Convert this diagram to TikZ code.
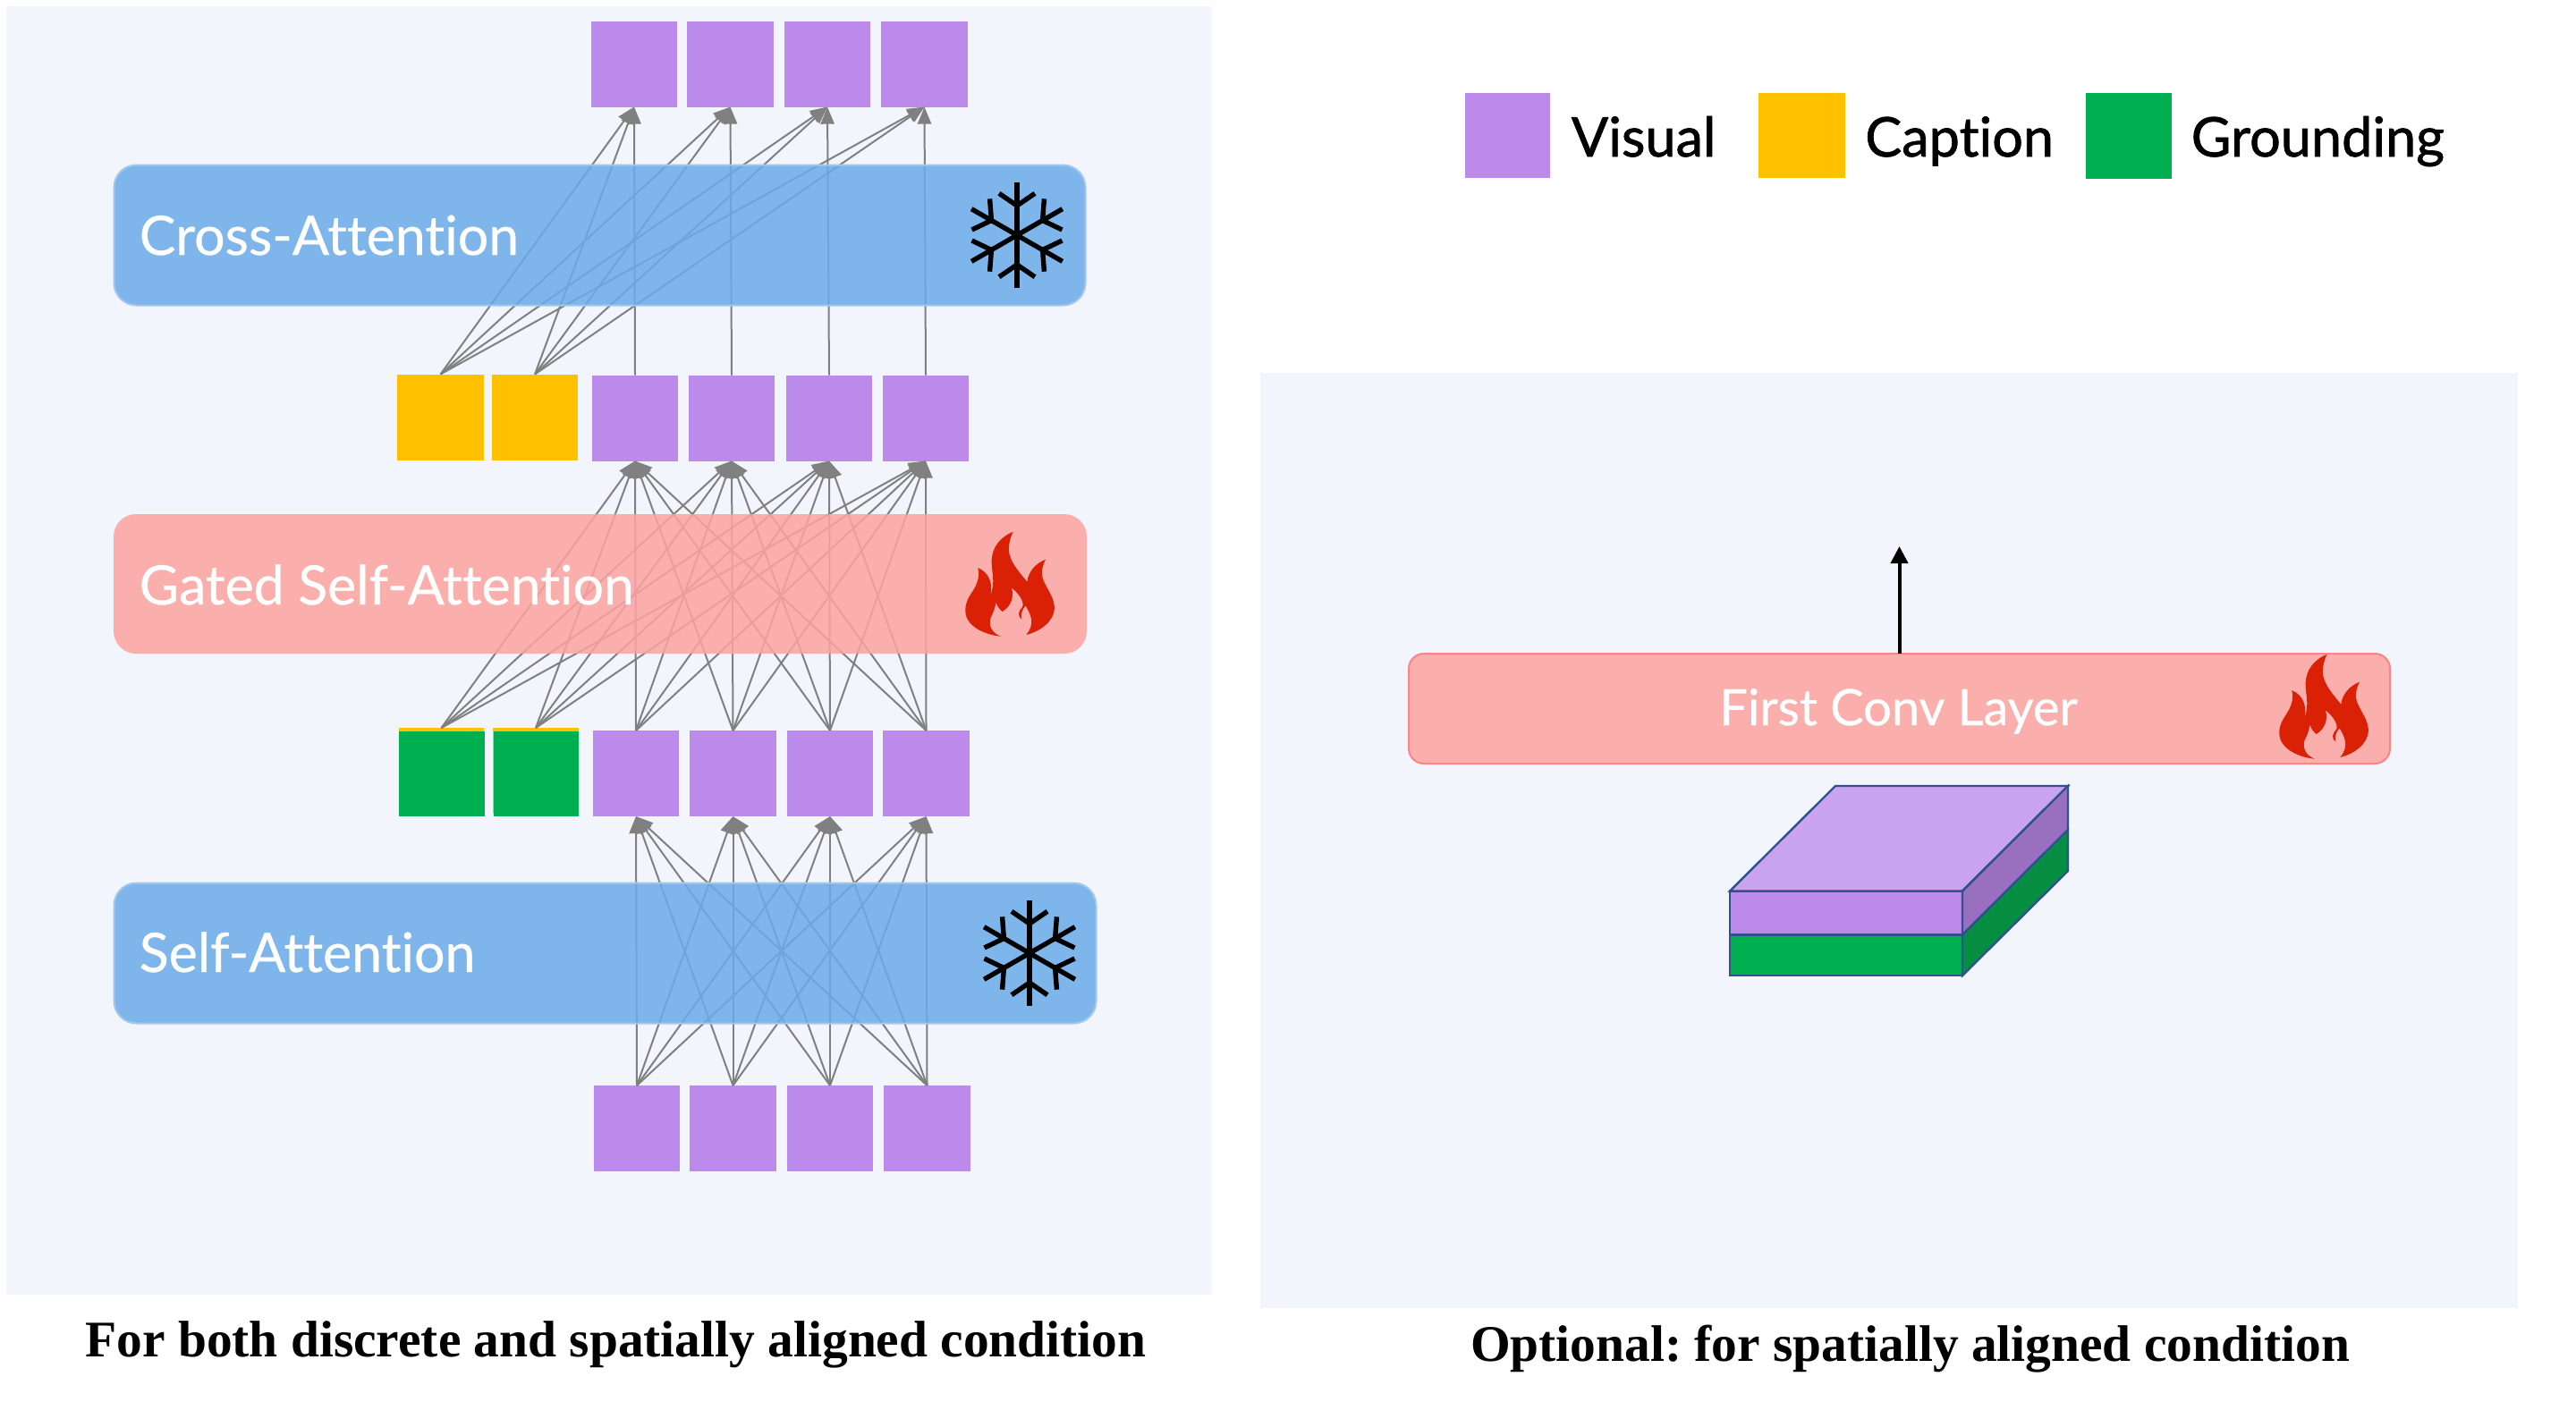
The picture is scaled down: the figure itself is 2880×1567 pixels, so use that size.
\documentclass[tikz,border=0pt]{standalone}
\usepackage{fontspec}
\setmainfont{Lato}[Ligatures=CommonOff]
\newfontfamily\capfont{Liberation Serif}
\newfontfamily\labfont{Lato}[Ligatures=CommonOff,FakeBold=0.5]
\newfontfamily\legfont{Lato}[Ligatures=CommonOff,FakeBold=1.2]
\usetikzlibrary{arrows.meta}
\definecolor{panelbg}{HTML}{F2F5FC}
\definecolor{visualc}{HTML}{BC8AEA}
\definecolor{captionc}{HTML}{FFC000}
\definecolor{groundc}{HTML}{00B050}
\definecolor{blueb}{RGB}{106,171,233}
\definecolor{bluebd}{HTML}{A4C8EC}
\definecolor{pinkb}{RGB}{253,163,159}
\definecolor{pinkf}{HTML}{FBAFAD}
\definecolor{pinkbd}{HTML}{F98585}
\definecolor{flamec}{HTML}{DA2106}
\definecolor{linkc}{HTML}{808080}
\definecolor{cubeline}{HTML}{2F528F}
\definecolor{cubetop}{HTML}{C9A4EE}
\definecolor{cubeside}{HTML}{9970BF}
\definecolor{cubeground}{HTML}{068E42}
\tikzset{
  cell/.style={rectangle,inner sep=0pt,outer sep=0pt,minimum width=24.2pt,minimum height=24pt,fill=#1},
  link/.style={draw=linkc,line width=0.5pt,-{Triangle[length=4.8pt,width=3.8pt]}},
  barnode/.style={rectangle,rounded corners=6.25pt,inner sep=0pt,outer sep=0pt},
  bartext/.style={text=white,font=\labfont\fontsize{15.2}{20}\selectfont,anchor=base west,inner sep=0pt},
  legendtext/.style={text=black,font=\legfont\fontsize{15.3}{20}\selectfont,anchor=base west,inner sep=0pt},
  captext/.style={text=black,font=\capfont\bfseries\frenchspacing\fontsize{14.36}{17}\selectfont,inner sep=0pt},
  cubeedge/.style={draw=cubeline,line width=0.6pt,line join=miter},
  snowflake/.pic={
    \foreach \a in {0,60,...,300}{
      \draw[black,line width=1.35pt,rotate=\a] (0,0) -- (0,58.7);
      \draw[black,line width=1.35pt,rotate=\a] (-20,46.7) -- (0,33) -- (20,46.7);
    }
  },
  flame/.pic={
    \fill[flamec,x=0.08333pt,y=-0.08333pt]
      (248,44) .. controls (205,62) and (178,95) .. (176,140)
      .. controls (175,180) and (190,210) .. (172,258)
      .. controls (182,215) and (165,180) .. (130,165)
      .. controls (138,200) and (125,225) .. (105,255)
      .. controls (92,275) and (86,295) .. (88,315)
      .. controls (92,360) and (150,390) .. (207,395)
      .. controls (178,385) and (165,360) .. (172,335)
      .. controls (178,320) and (188,305) .. (190,280)
      .. controls (195,295) and (203,305) .. (212,312)
      .. controls (240,295) and (252,265) .. (243,232)
      .. controls (265,250) and (285,275) .. (280,295)
      .. controls (265,310) and (262,328) .. (277,338)
      .. controls (272,320) and (280,302) .. (290,292)
      .. controls (305,320) and (325,350) .. (292,390)
      .. controls (340,378) and (385,345) .. (387,300)
      .. controls (385,255) and (350,225) .. (345,190)
      .. controls (343,170) and (350,150) .. (357,137)
      .. controls (325,150) and (300,175) .. (295,212)
      .. controls (260,170) and (225,130) .. (235,85)
      .. controls (238,68) and (242,55) .. (248,44) -- cycle;
  }
}
\begin{document}
\begin{tikzpicture}[x=0.25pt,y=-0.25pt]
\useasboundingbox (0,0) rectangle (2880,1567);
% panels
\fill[panelbg] (7,7) rectangle (1355,1448);
\fill[panelbg] (1408.5,417) rectangle (2815,1463);

% top row
\node[cell=visualc] (t1) at (709,71.5) {};
\node[cell=visualc] (t2) at (816.5,71.5) {};
\node[cell=visualc] (t3) at (925,71.5) {};
\node[cell=visualc] (t4) at (1033.5,71.5) {};
% caption row
\node[cell=captionc] (c1) at (492.5,466.5) {};
\node[cell=captionc] (c2) at (598,466.5) {};
\node[cell=visualc] (m1) at (710,467.5) {};
\node[cell=visualc] (m2) at (818,467.5) {};
\node[cell=visualc] (m3) at (927,467.5) {};
\node[cell=visualc] (m4) at (1035,467.5) {};
% grounding row (captions left just visible behind the green)
\node[cell=captionc,minimum width=23.8pt] (y1) at (493.5,862) {};
\node[cell=captionc,minimum width=23.8pt] (y2) at (599,862) {};
\node[cell=groundc,minimum width=24pt,minimum height=23.7pt] (g1) at (494,865.5) {};
\node[cell=groundc,minimum width=23.75pt,minimum height=23.7pt] (g2) at (599.5,865.5) {};
\node[cell=visualc] (n1) at (711,865) {};
\node[cell=visualc] (n2) at (819.5,865) {};
\node[cell=visualc] (n3) at (928,865) {};
\node[cell=visualc] (n4) at (1035.5,865) {};
% bottom row
\node[cell=visualc] (b1) at (712,1262) {};
\node[cell=visualc] (b2) at (819.5,1262) {};
\node[cell=visualc] (b3) at (928,1262) {};
\node[cell=visualc] (b4) at (1036.5,1262) {};

% connectors
\foreach \s in {c1,c2}
  \foreach \d in {t1,t2,t3,t4}
    \draw[link] (\s.north) -- (\d.south);
\draw[link] (m1.north) -- (t1.south);
\draw[link] (m2.north) -- (t2.south);
\draw[link] (m3.north) -- (t3.south);
\draw[link] (m4.north) -- (t4.south);
\foreach \s in {y1,y2,n1,n2,n3,n4}
  \foreach \d in {m1,m2,m3,m4}
    \draw[link] (\s.north) -- (\d.south);
\foreach \s in {b1,b2,b3,b4}
  \foreach \d in {n1,n2,n3,n4}
    \draw[link] (\s.north) -- (\d.south);

% bars
\node[barnode,draw=bluebd,line width=0.5pt,fill=blueb,fill opacity=0.85,minimum width=271.5pt,minimum height=39.25pt] (cross) at (670.5,263) {};
\node[barnode,fill=pinkb,fill opacity=0.85,minimum width=272pt,minimum height=39pt] (gated) at (671,653) {};
\node[barnode,draw=bluebd,line width=0.5pt,fill=blueb,fill opacity=0.85,minimum width=274.5pt,minimum height=39.25pt] (self) at (676.5,1066) {};
\node[bartext] (crosst) at (155,285) {Cross-Attention};
\node[bartext] (gatedt) at (155,676) {Gated Self-Attention};
\node[bartext] (selft) at (155,1087) {Self-Attention};
\pic at (1137,263) {snowflake};
\pic at (1151,1066) {snowflake};
\pic at (1050,580) {flame};

% legend
\node[cell=visualc,minimum width=23.75pt,minimum height=23.75pt] (lv) at (1685.5,151.5) {};
\node[cell=captionc,minimum width=24.25pt,minimum height=23.75pt] (lc) at (2014.5,151.5) {};
\node[cell=groundc,minimum width=24.1pt,minimum height=24pt] (lg) at (2380.2,152) {};
\node[legendtext] (lvt) at (1756,175) {Visual};
\node[legendtext] (lct) at (2084.5,175) {Caption};
\node[legendtext] (lgt) at (2449,175) {Grounding};

% right panel
\node[barnode,draw=pinkbd,line width=0.5pt,fill=pinkf,rounded corners=4.2pt,minimum width=274.25pt,minimum height=30.75pt] (conv) at (2123.5,792.5) {};
\node[text=white,font=\labfont\fontsize{14}{18}\selectfont,inner sep=0pt,anchor=base] (convt) at (2122.5,811) {First Conv Layer};
\pic at (2519,717) {flame};
\coordinate (convout) at (2123.5,611);
\draw[black,line width=1pt,-{Triangle[length=4.8pt,width=4.8pt]}] (conv.north) -- (convout);

% block
\filldraw[cubeedge,fill=groundc] (1934,1045.5) rectangle (2194,1091);
\filldraw[cubeedge,fill=visualc] (1934,996.5) rectangle (2194,1045.5);
\filldraw[cubeedge,fill=cubetop] (1934,996.5) -- (2052,879) -- (2312,879) -- (2194,996.5) -- cycle;
\filldraw[cubeedge,fill=cubeside] (2194,996.5) -- (2312,879) -- (2312,928) -- (2194,1045.5) -- cycle;
\filldraw[cubeedge,fill=cubeground] (2194,1045.5) -- (2312,928) -- (2312,974) -- (2194,1091) -- cycle;

% captions
\node[captext] (cap1) at (688.5,1503.5) {For both discrete and spatially aligned condition};
\node[captext] (cap2) at (2135.5,1508.5) {Optional: for spatially aligned condition};
\end{tikzpicture}
\end{document}
